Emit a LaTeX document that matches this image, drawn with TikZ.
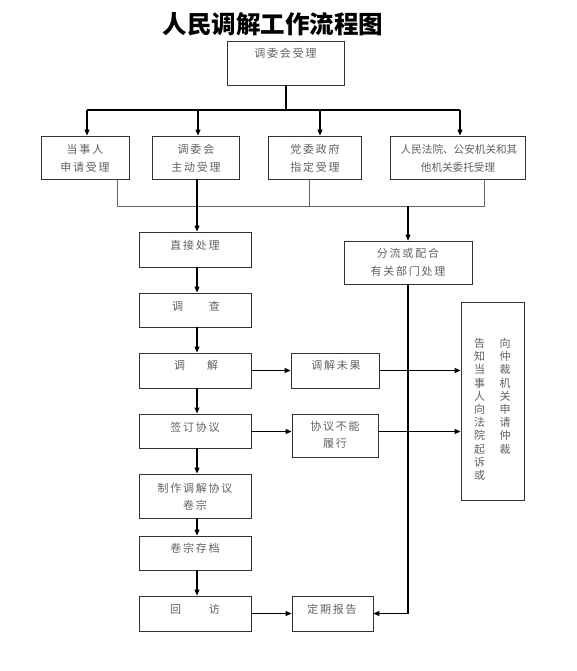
\documentclass[tikz,border=0pt]{standalone}
\usepackage{fontspec}
\setmainfont{Noto Sans CJK SC}
\newfontfamily\cjk[LetterSpace=16]{Noto Sans CJK SC}
\newfontfamily\cjkn{Noto Sans CJK SC}
\usetikzlibrary{arrows.meta}
\tikzset{
  box/.style={draw=black!80, line width=0.9pt, inner sep=0pt},
  txt/.style={inner sep=0pt, text=black!62, font=\cjk\fontsize{11}{13}\selectfont},
  small/.style={inner sep=0pt, text=black!62, font=\cjkn\fontsize{10.6}{13}\selectfont},
  vtxt/.style={inner sep=0pt, text=black!62, align=center, anchor=north, font=\cjkn\fontsize{11}{13.2}\selectfont},
  ln/.style={line width=1.1pt, black},
  thin/.style={line width=0.8pt, black!60},
  arr/.style={line width=1.1pt, black, -{Triangle[length=6pt,width=5pt]}},
  thick/.style={line width=1.8pt, black}
}
\begin{document}
\begin{tikzpicture}[x=1pt,y=-1pt]
\path[use as bounding box, fill=white] (0,0) rectangle (577,671);
% title
\node[inner sep=0pt, font=\cjkn\bfseries\fontsize{24.5}{26}\selectfont] (title) at (273,24) {人民调解工作流程图};
% boxes
\node[box, minimum width=117pt, minimum height=44pt] (top) at (285.5,63) {};
\node[txt] (ttop) at (285.5,53) {调委会受理};
\node[box, minimum width=88pt, minimum height=43pt] (b1) at (85,157.5) {};
\node[txt] (t1a) at (85,149) {当事人};
\node[txt] (t1b) at (85,167) {申请受理};
\node[box, minimum width=87pt, minimum height=43pt] (b2) at (195.5,157.5) {};
\node[txt] (t2a) at (196,149) {调委会};
\node[txt] (t2b) at (196,167) {主动受理};
\node[box, minimum width=93pt, minimum height=43pt] (b3) at (314.5,157.5) {};
\node[txt] (t3a) at (315,149) {党委政府};
\node[txt] (t3b) at (315,167) {指定受理};
\node[box, minimum width=135pt, minimum height=43pt] (b4) at (457.5,157.5) {};
\node[small] (t4a) at (459,149) {人民法院、公安机关和其};
\node[small] (t4b) at (458,167) {他机关委托受理};
\node[box, minimum width=112pt, minimum height=35pt] (zj) at (195,249.5) {};
\node[txt] (tzj) at (195,245) {直接处理};
\node[box, minimum width=128pt, minimum height=43pt] (fl) at (408,262.5) {};
\node[txt] (tfla) at (408,253) {分流或配合};
\node[txt] (tflb) at (408,271) {有关部门处理};
\node[box, minimum width=112pt, minimum height=34pt] (dc) at (195,310) {};
\node[txt] (tdc) at (196,306) {调\hspace{26pt}查};
\node[box, minimum width=112pt, minimum height=35pt] (tj) at (195,370.5) {};
\node[txt] (ttj) at (196,365) {调\hspace{22pt}解};
\node[box, minimum width=88pt, minimum height=35pt] (wg) at (335,370.5) {};
\node[txt] (twg) at (336,365) {调解未果};
\node[box, minimum width=112pt, minimum height=34pt] (qd) at (195,431) {};
\node[txt] (tqd) at (195,427) {签订协议};
\node[box, minimum width=86pt, minimum height=43pt] (bn) at (335,435.5) {};
\node[txt] (tbna) at (335,426) {协议不能};
\node[txt] (tbnb) at (335,443) {履行};
\node[box, minimum width=112pt, minimum height=44pt] (zz) at (195,496) {};
\node[txt] (tzza) at (195,488) {制作调解协议};
\node[txt] (tzzb) at (195,505) {卷宗};
\node[box, minimum width=112pt, minimum height=34pt] (jz) at (195,553) {};
\node[txt] (tjz) at (195,548) {卷宗存档};
\node[box, minimum width=112pt, minimum height=35pt] (hf) at (195,613.5) {};
\node[txt] (thf) at (195,609) {回\hspace{28pt}访};
\node[box, minimum width=81pt, minimum height=35pt] (dq) at (332.5,613.5) {};
\node[txt] (tdq) at (332,609) {定期报告};
\node[box, minimum width=63pt, minimum height=198pt] (tall) at (492.5,401) {};
\node[vtxt] (tv1) at (479.5,338) {告\\知\\当\\事\\人\\向\\法\\院\\起\\诉\\或};
\node[vtxt] (tv2) at (505,338) {向\\仲\\裁\\机\\关\\申\\请\\仲\\裁};
% top branching
\coordinate (hub) at (286,110);
\coordinate (s1) at (87,110);
\coordinate (s2) at (198,110);
\coordinate (s3) at (320,110);
\coordinate (s4) at (460,110);
\draw[ln] (top.south -| hub) -- (hub);
\draw[ln] (s1) -- (s4);
\draw[arr] (s1) -- (s1 |- b1.north);
\draw[arr] (s2) -- (s2 |- b2.north);
\draw[arr] (s3) -- (s3 |- b3.north);
\draw[arr] (s4) -- (s4 |- b4.north);
% merge
\coordinate (m1) at (117,206);
\coordinate (m3) at (309,206);
\coordinate (m4) at (484,206);
\coordinate (mf) at (408,206);
\coordinate (m2) at (197,206);
\draw[thin] (m1 |- b1.south) -- (m1) -- (m4) -- (m4 |- b4.south);
\draw[thin] (m3 |- b3.south) -- (m3);
\draw[arr] (m2 |- b2.south) -- (m2 |- zj.north);
\draw[arr] (mf) -- (fl.north);
% main column
\coordinate (c) at (197,0);
\draw[arr] (c |- zj.south) -- (c |- dc.north);
\draw[arr] (c |- dc.south) -- (c |- tj.north);
\draw[arr] (c |- tj.south) -- (c |- qd.north);
\draw[arr] (c |- qd.south) -- (c |- zz.north);
\draw[arr] (c |- zz.south) -- (c |- jz.north);
\draw[arr] (c |- jz.south) -- (c |- hf.north);
% side
\draw[arr] (tj.east) -- (wg.west);
\draw[arr] (wg.east) -- (wg.east -| tall.west);
\coordinate (r2) at (0,431.5);
\draw[arr] (qd.east |- r2) -- (bn.west |- r2);
\draw[arr] (bn.east |- r2) -- (tall.west |- r2);
\draw[arr] (hf.east) -- (dq.west);
\draw[thick] (fl.south) -- (fl.south |- dq.east);
\draw[arr, line width=1.1pt] (fl.south |- dq.east) -- (dq.east);
\end{tikzpicture}
\end{document}
